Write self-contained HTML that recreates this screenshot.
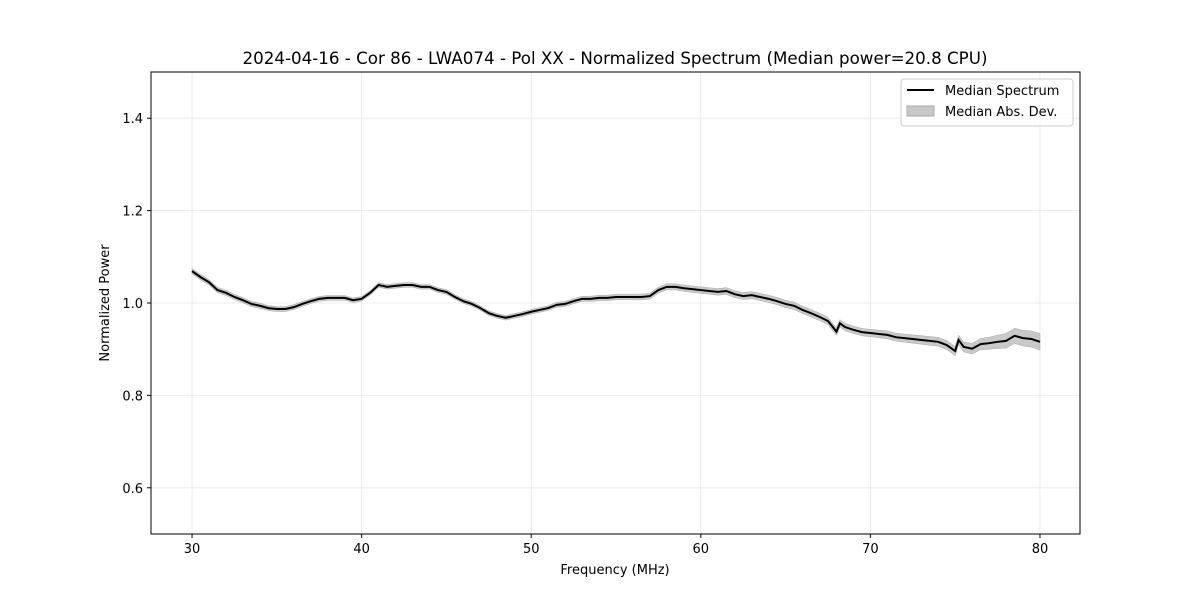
<!DOCTYPE html>
<html><head><meta charset="utf-8"><style>
body{margin:0;background:#fff;font-family:"Liberation Sans","DejaVu Sans",sans-serif}
svg text{font-family:"DejaVu Sans","Liberation Sans",sans-serif}
</style></head><body>
<svg id="c" width="1200" height="600"></svg>
<script>
const freqs=[30,30.5,31,31.5,32,32.5,33,33.5,34,34.5,35,35.5,36,36.5,37,37.5,38,38.5,39,39.5,40,40.5,41,41.5,42,42.5,43,43.5,44,44.5,45,45.5,46,46.5,47,47.5,48,48.5,49,49.5,50,50.5,51,51.5,52,52.5,53,53.5,54,54.5,55,55.5,56,56.5,57,57.5,58,58.5,59,59.5,60,60.5,61,61.5,62,62.5,63,63.5,64,64.5,65,65.5,66,66.5,67,67.5,68,68.2,68.5,69,69.5,70,70.5,71,71.5,72,72.5,73,73.5,74,74.5,75,75.2,75.5,76,76.5,77,77.5,78,78.5,79,79.5,80];
const power=[1.069,1.056,1.045,1.028,1.022,1.013,1.006,0.998,0.994,0.989,0.987,0.987,0.991,0.998,1.004,1.009,1.011,1.011,1.011,1.006,1.009,1.022,1.039,1.035,1.037,1.039,1.039,1.035,1.035,1.028,1.024,1.013,1.004,0.998,0.989,0.978,0.972,0.968,0.972,0.976,0.981,0.985,0.989,0.996,0.998,1.004,1.009,1.009,1.011,1.011,1.013,1.013,1.013,1.013,1.015,1.028,1.035,1.035,1.032,1.030,1.028,1.026,1.024,1.026,1.019,1.015,1.017,1.013,1.009,1.004,0.998,0.994,0.985,0.978,0.970,0.961,0.938,0.956,0.948,0.942,0.937,0.935,0.933,0.931,0.926,0.924,0.922,0.920,0.918,0.916,0.909,0.896,0.920,0.905,0.901,0.911,0.913,0.916,0.918,0.929,0.924,0.922,0.916];
const madFreqs=[30,40,50,60,65,70,75,77,78,80];
const madVals=[0.006,0.005,0.005,0.007,0.008,0.008,0.01,0.013,0.016,0.018];
const yTicks=[0.6,0.8,1.0,1.2,1.4];
const xTicks=[30,40,50,60,70,80];
const L=151,R=1080,T=72,B=534,x0=27.58,x1=82.36,y0=0.5,y1=1.5;
const X=f=>L+(f-x0)/(x1-x0)*(R-L), Y=v=>B-(v-y0)/(y1-y0)*(B-T);
function mad(f){for(let i=0;i<madFreqs.length-1;i++){if(f<=madFreqs[i+1]){const t=(f-madFreqs[i])/(madFreqs[i+1]-madFreqs[i]);return madVals[i]+t*(madVals[i+1]-madVals[i]);}}return madVals[madVals.length-1];}
const s=document.getElementById('c'),NS='http://www.w3.org/2000/svg';
function el(t,a,p){const e=document.createElementNS(NS,t);for(const k in a)e.setAttribute(k,a[k]);(p||s).appendChild(e);return e;}
function txt(x,y,str,sz,anchor,extra){const e=el('text',Object.assign({x:x,y:y,'font-size':sz,'text-anchor':anchor||'middle',fill:'#000'},extra||{}));e.textContent=str;return e;}
xTicks.forEach(t=>{const g=el('line',{x1:X(t),x2:X(t),y1:T,y2:B,stroke:'#e6e6e6','stroke-width':0.8});

el('line',{x1:X(t),x2:X(t),y1:B,y2:B+4,stroke:'#000'});
const l=txt(X(t),B+19,String(t),13);});
yTicks.forEach(t=>{const g=el('line',{x1:L,x2:R,y1:Y(t),y2:Y(t),stroke:'#e6e6e6','stroke-width':0.8});

el('line',{x1:L-4,x2:L,y1:Y(t),y2:Y(t),stroke:'#000'});
const l=txt(L-8,Y(t)+5,t.toFixed(1),13,'end');});
let up=freqs.map((f,i)=>X(f)+','+Y(power[i]+mad(f))),dn=freqs.map((f,i)=>X(f)+','+Y(power[i]-mad(f))).reverse();
const band=el('polygon',{points:up.concat(dn).join(' '),fill:'#bfbfbf','fill-opacity':0.85,stroke:'#aaa','stroke-width':0.5});

const line=el('polyline',{points:freqs.map((f,i)=>X(f)+','+Y(power[i])).join(' '),fill:'none',stroke:'#000','stroke-width':2});

const fr=el('rect',{x:L,y:T,width:R-L,height:B-T,fill:'none',stroke:'#000','stroke-width':1});

const ti=txt(615,64,'2024-04-16 - Cor 86 - LWA074 - Pol XX - Normalized Spectrum (Median power=20.8 CPU)',16.7);

const xt=txt(615,574,'Frequency (MHz)',13);
const yt=txt(0,0,'Normalized Power',13,'middle',{transform:'translate(109,303) rotate(-90)'});
const lg=el('g',{});
el('rect',{x:901,y:79,width:172,height:47,rx:3,fill:'#fff','fill-opacity':0.8,stroke:'#ccc'},lg);
const le1=el('line',{x1:907,x2:934,y1:90,y2:90,stroke:'#000','stroke-width':2},lg);

const lt1=el('text',{x:945,y:95,'font-size':13},lg);lt1.textContent='Median Spectrum';
const le2=el('rect',{x:907,y:106,width:27,height:10,fill:'#c8c8c8',stroke:'#aaa'},lg);

const lt2=el('text',{x:945,y:116,'font-size':13},lg);lt2.textContent='Median Abs. Dev.';
</script>
</body></html>
